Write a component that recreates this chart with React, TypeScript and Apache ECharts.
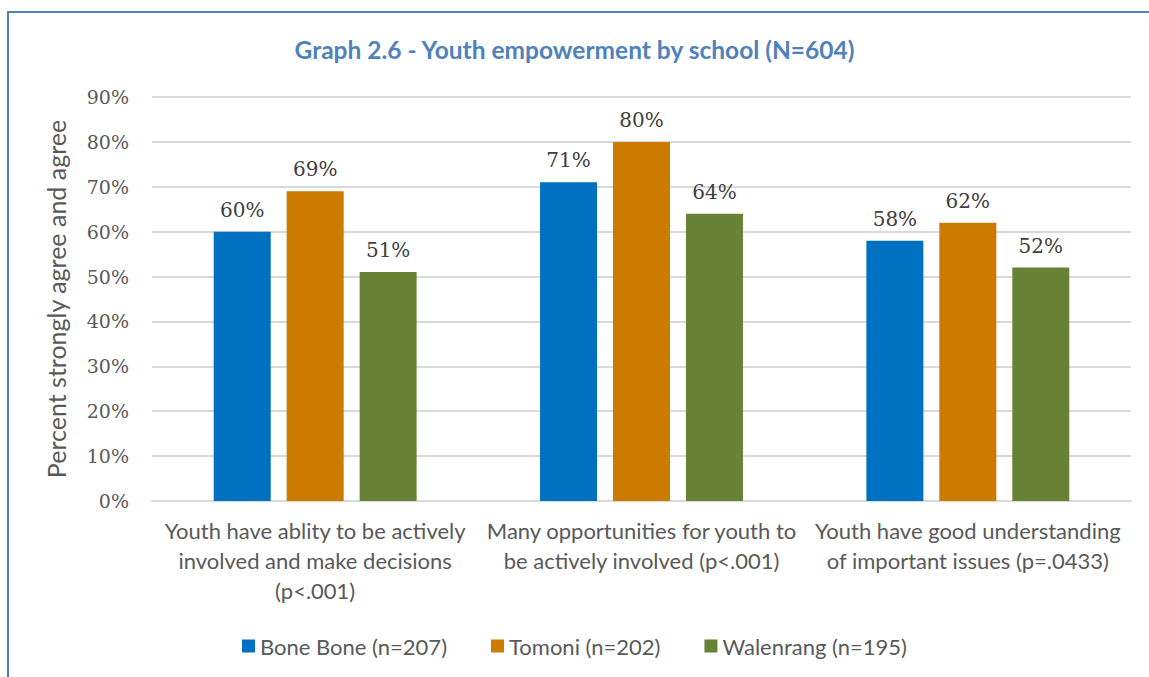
import React, { useEffect, useRef } from "react";
import * as echarts from "echarts";

const categories = [
  "Youth have ablity to be actively\ninvolved and make decisions\n(p<.001)",
  "Many opportunities for youth to\nbe actively involved (p<.001)",
  "Youth have good understanding\nof important issues (p=.0433)",
];
const seriesNames = ["Bone Bone (n=207)", "Tomoni (n=202)", "Walenrang (n=195)"];
const boneBone = [60, 71, 58];
const tomoni = [69, 80, 62];
const walenrang = [51, 64, 52];
const yTicks = { min: 0, max: 90, interval: 10 };

const colors = ["#0070C0", "#CC7A00", "#678235"];
const sans = "Lato";
const serif = "DejaVu Serif";

export default function App() {
  const ref = useRef<HTMLDivElement>(null);
  useEffect(() => {
    document.body.style.margin = "0";
    const chart = echarts.init(ref.current!, null, { renderer: "svg" });
    const values = [boneBone, tomoni, walenrang];
    chart.setOption({
      animation: false,
      backgroundColor: "#ffffff",
      title: {
        text: "Graph 2.6 - Youth empowerment by school (N=604)",
        left: "center",
        top: 32,
        textStyle: { color: "#4F81BD", fontFamily: sans, fontWeight: "bold", fontSize: 24.5 },
      },
      graphic: [
        {
          type: "rect",
          shape: { x: 8, y: 12, width: 1200, height: 700 },
          style: { fill: "none", stroke: "#4F81BD", lineWidth: 2 },
          silent: true,
        },
      ],
      legend: {
        top: 630,
        left: "center",
        itemWidth: 13,
        itemHeight: 13,
        itemGap: 44,
        icon: "rect",
        textStyle: { color: "#595959", fontFamily: sans, fontSize: 22 },
        data: seriesNames,
      },
      grid: { left: 152, right: 18, top: 97, bottom: 176, containLabel: false },
      xAxis: {
        type: "category",
        data: categories,
        axisLine: { lineStyle: { color: "#d9d9d9", width: 2 } },
        axisTick: { show: false },
        axisLabel: {
          color: "#595959",
          fontFamily: sans,
          fontSize: 22,
          lineHeight: 30,
          margin: 14,
          interval: 0,
        },
      },
      yAxis: {
        type: "value",
        min: yTicks.min,
        max: yTicks.max,
        interval: yTicks.interval,
        name: "Percent strongly agree and agree",
        nameLocation: "middle",
        nameGap: 84,
        nameTextStyle: { color: "#595959", fontFamily: sans, fontSize: 25 },
        axisLabel: {
          formatter: "{value}%",
          color: "#595959",
          fontFamily: serif,
          fontSize: 19,
          margin: 23,
        },
        axisLine: { show: false },
        axisTick: { show: false },
        splitLine: { lineStyle: { color: "#d9d9d9", width: 2 } },
      },
      series: seriesNames.map((name, i) => ({
        name,
        type: "bar",
        data: values[i],
        barWidth: 57,
        barGap: "28%",
        itemStyle: { color: colors[i] },
        label: {
          show: true,
          position: "top",
          distance: 12,
          formatter: "{c}%",
          color: "#404040",
          fontFamily: serif,
          fontSize: 20,
        },
      })),
    });
    return () => chart.dispose();
  }, []);
  return <div ref={ref} style={{ width: 1149, height: 677 }} />;
}
